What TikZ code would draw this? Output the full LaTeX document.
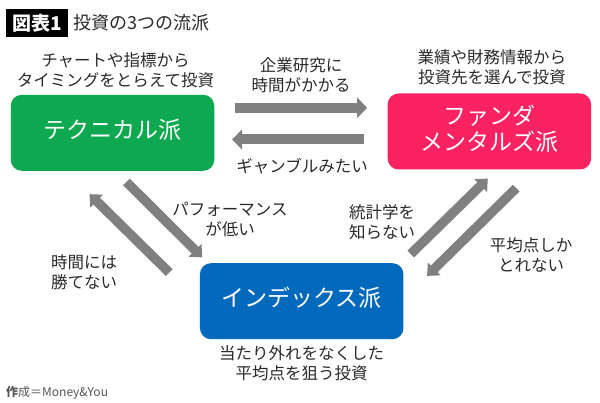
\documentclass[tikz,border=0pt]{standalone}
\usepackage{fontspec}
\setmainfont{Noto Sans CJK JP}
\usepackage{xcolor}
\usepackage{tikz}
\usetikzlibrary{positioning, calc, arrows.meta}
\definecolor{techgreen}{HTML}{0DA84F}
\definecolor{fundpink}{HTML}{FB2262}
\definecolor{indexblue}{HTML}{0369BC}
\definecolor{flowgray}{HTML}{808080}
\definecolor{inkgray}{HTML}{2A2A2A}
\tikzset{
  school/.style={draw=none, rounded corners=11pt, minimum width=203.5pt, minimum height=76pt, inner sep=0pt,
    text=white, align=center, text depth=8pt, font=\fontsize{23}{30}\selectfont},
  note/.style={inner sep=0pt, align=center, text=inkgray, font=\fontsize{16.5}{20}\selectfont},
  flow/.style={line width=10pt, flowgray, -{Triangle[length=10pt,width=20pt]}},
  slantflow/.style={line width=9.5pt, flowgray, -{Triangle[length=10pt,width=17.5pt]}},
}
\begin{document}
\begin{tikzpicture}[x=1pt, y=-1pt]
            \useasboundingbox[fill=white] (0,0) rectangle (600,403);
            % heading
            \node[fill=black, text=white, minimum width=62.5pt, minimum height=28.5pt, inner sep=0pt, font=\fontsize{19}{20}\selectfont\bfseries] (badge) at (37,23) {図表1};
            \node[note, right=4.5pt of badge, font=\fontsize{18}{20}\selectfont] (title) {投資の3つの流派};
            % three schools
            \node[school, fill=techgreen] (tech) at (112.5,132.8) {テクニカル派};
            \node[school, fill=fundpink, right=173pt of tech, yshift=1.3pt] (fund) {ファンダ\\[-4pt]メンタルズ派};
            \node[school, fill=indexblue, below=92pt of tech, xshift=189.2pt] (index) {インデックス派};
            % notes next to the schools
            \node[note, above=7pt of tech, xshift=3pt] (technote) {チャートや指標から\\タイミングをとらえて投資};
            \node[note, above=8pt of fund, xshift=2.5pt] (fundnote) {業績や財務情報から\\投資先を選んで投資};
            \node[note, below=6.5pt of index] (indexnote) {当たり外れをなくした\\平均点を狙う投資};
            % notes next to the arrows
            \node[note] (slow) at (301,75) {企業研究に\\時間がかかる};
            \node[note] (gamble) at (302,166) {ギャンブルみたい};
            \node[note] (perf) at (230,219) {パフォーマンス\\が低い};
            \node[note] (time) at (84,272) {時間には\\勝てない};
            \node[note] (stat) at (382,222) {統計学を\\知らない};
            \node[note] (avg) at (531,254.5) {平均点しか\\とれない};
            \node[note, text=inkgray!80, anchor=west, font=\fontsize{12}{16}\selectfont] (credit) at (6,393) {{\bfseries 作}成＝Money\&You};
            % arrows
            \draw[flow, shorten <=20.2pt, shorten >=20.3pt] ([yshift=25pt]tech.east) -- ([yshift=23.7pt]fund.west);
            \draw[flow, shorten <=23.3pt, shorten >=17.7pt] ([yshift=-8pt]fund.west) -- ([yshift=-6.7pt]tech.east);
            \draw[slantflow, shorten <=15.5pt, shorten >=8pt] ([xshift=2.9pt]tech.south) -- ([xshift=-93.8pt]index.north);
            \draw[slantflow, shorten <=-13.7pt, shorten >=33pt] ([xshift=-142.2pt]index.north) -- ([xshift=-46.5pt]tech.south);
            \draw[slantflow, shorten <=12.8pt, shorten >=12.7pt] ([xshift=99.9pt]index.north) -- ([xshift=7.5pt]fund.south);
            \draw[slantflow, shorten <=26.2pt, shorten >=-18.4pt] ([xshift=45.5pt]fund.south) -- ([xshift=138.5pt]index.north);
        \end{tikzpicture}
\end{document}
